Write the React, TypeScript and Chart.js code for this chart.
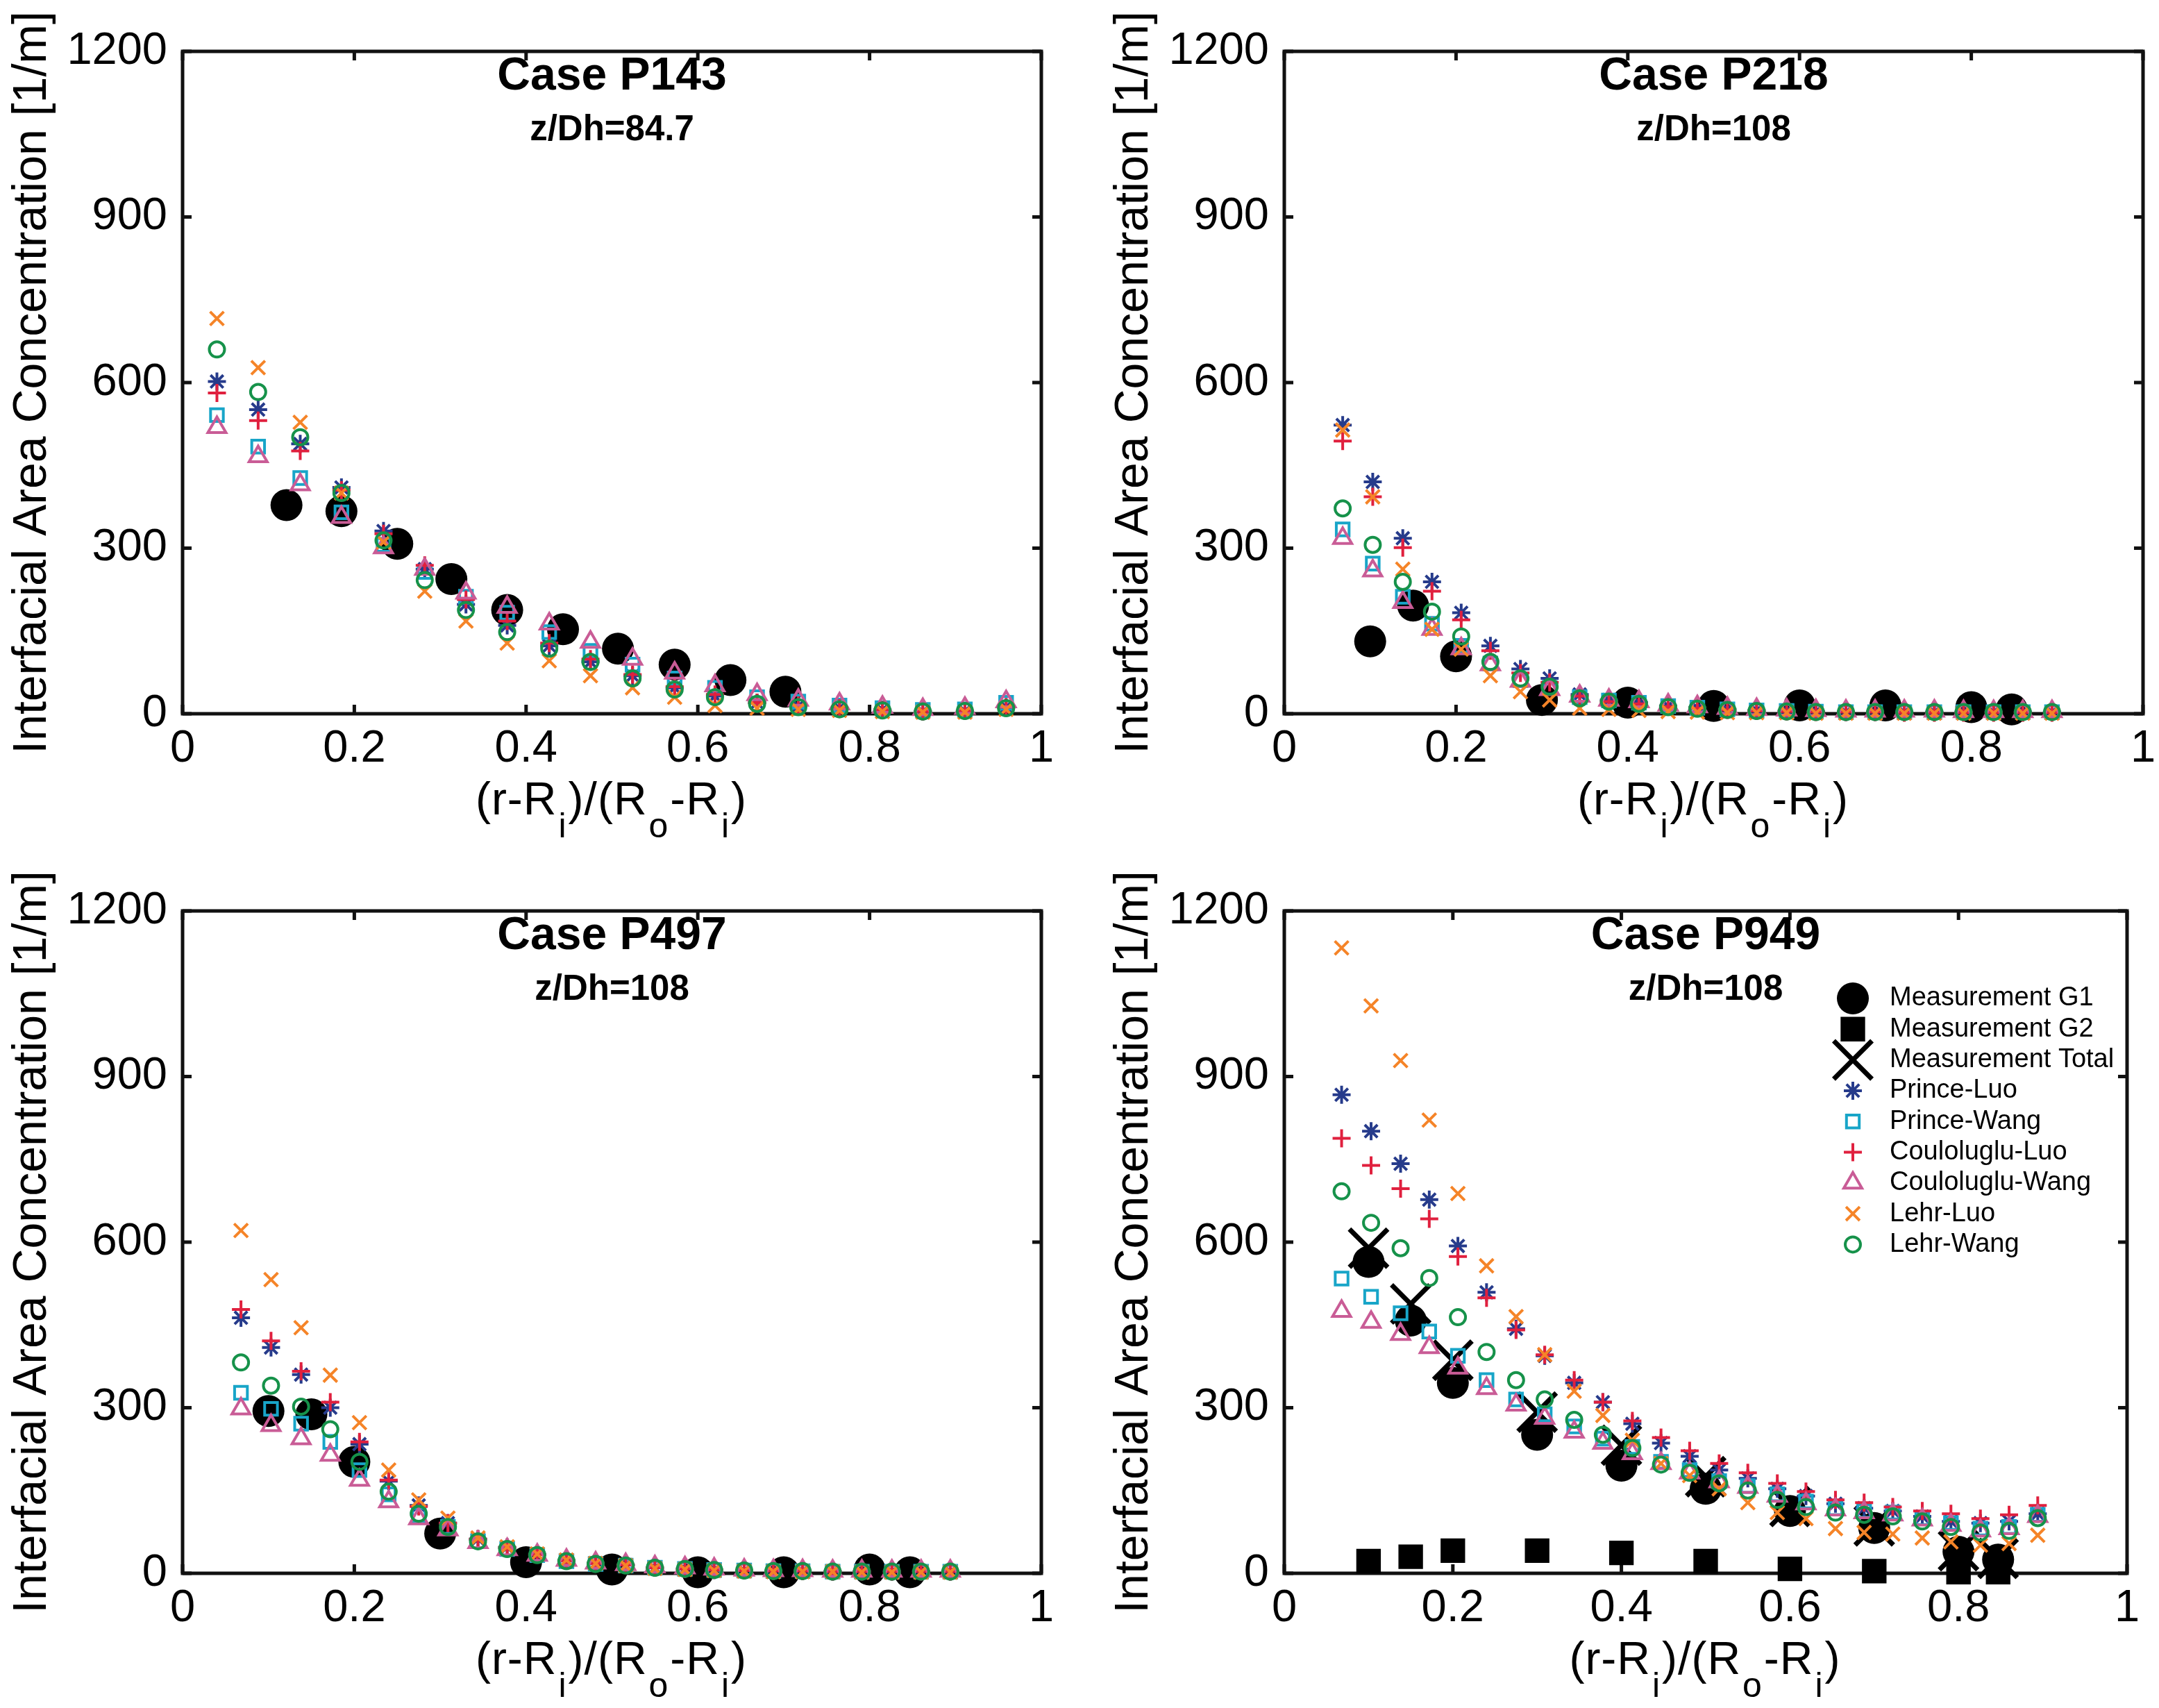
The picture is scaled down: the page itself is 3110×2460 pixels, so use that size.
import { useEffect, useRef } from 'react';
import { Chart, registerables, type ChartConfiguration, type Plugin } from 'chart.js';
import { drawPoint } from 'chart.js/helpers';

Chart.register(...registerables);

const FONT = '"Liberation Sans", Arial, Helvetica, sans-serif';

// axis ticks
const xTicks = [0, 0.2, 0.4, 0.6, 0.8, 1];
const xTickLabels = ['0', '0.2', '0.4', '0.6', '0.8', '1'];
const yTicks = [0, 300, 600, 900, 1200];
const yTickLabels = ['0', '300', '600', '900', '1200'];

const seriesNames = [
  'Measurement G1',
  'Measurement G2',
  'Measurement Total',
  'Prince-Luo',
  'Prince-Wang',
  'Couloluglu-Luo',
  'Couloluglu-Wang',
  'Lehr-Luo',
  'Lehr-Wang',
];

// radial positions (r-Ri)/(Ro-Ri)
const xModelP143 = [0.040, 0.088, 0.137, 0.185, 0.234, 0.282, 0.330, 0.378, 0.427, 0.475, 0.524, 0.573, 0.620, 0.669, 0.717, 0.765, 0.815, 0.862, 0.911, 0.959];
const xMeasP143 = [0.121, 0.185, 0.250, 0.313, 0.378, 0.443, 0.507, 0.573, 0.638, 0.702];
const xModel = [0.068, 0.103, 0.138, 0.172, 0.206, 0.240, 0.275, 0.309, 0.344, 0.378, 0.413, 0.447, 0.481, 0.516, 0.550, 0.585, 0.619, 0.654, 0.688, 0.722, 0.757, 0.791, 0.826, 0.860, 0.894];
const xMeas = [0.100, 0.150, 0.200, 0.300, 0.400, 0.500, 0.600, 0.700, 0.800, 0.847];

// Case P143
const p143G1 = [378, 367, 308, 244, 188, 153, 118, 89, 61, 40];
const p143PrinceLuo = [602, 551, 489, 410, 331, 262, 198, 160, 123, 94, 69, 47, 32, 20, 14, 10, 7, 4, 5, 12];
const p143PrinceWang = [541, 484, 427, 365, 306, 257, 212, 183, 148, 114, 89, 64, 47, 30, 22, 15, 10, 7, 8, 20];
const p143CoulLuo = [581, 531, 476, 405, 326, 269, 207, 168, 128, 99, 71, 49, 35, 20, 15, 10, 7, 4, 5, 12];
const p143CoulWang = [519, 466, 415, 356, 301, 262, 219, 193, 163, 130, 99, 74, 51, 35, 25, 18, 12, 8, 10, 22];
const p143LehrLuo = [716, 627, 528, 400, 311, 222, 168, 128, 96, 69, 47, 30, 15, 10, 8, 6, 4, 3, 3, 8];
const p143LehrWang = [660, 583, 501, 400, 314, 242, 188, 148, 118, 94, 64, 44, 30, 18, 12, 8, 6, 4, 5, 10];

// Case P218
const p218G1 = [131, 196, 104, 25, 20, 14, 15, 15, 12, 8];
const p218PrinceLuo = [523, 420, 318, 239, 183, 123, 81, 64, 35, 25, 20, 14, 11, 8, 6, 5, 4, 3, 3, 3, 3, 3, 3, 3, 3];
const p218PrinceWang = [334, 272, 212, 163, 123, 91, 61, 47, 30, 24, 20, 14, 11, 8, 6, 5, 4, 3, 3, 3, 3, 3, 3, 3, 3];
const p218CoulLuo = [494, 393, 301, 222, 170, 114, 74, 57, 32, 22, 18, 13, 10, 7, 5, 4, 3, 3, 3, 2, 2, 2, 2, 2, 2];
const p218CoulWang = [318, 259, 202, 153, 118, 89, 59, 44, 32, 25, 22, 16, 13, 10, 8, 7, 6, 5, 5, 5, 5, 4, 4, 4, 4];
const p218LehrLuo = [514, 393, 262, 153, 117, 69, 40, 25, 10, 8, 6, 4, 3, 2, 2, 2, 1, 1, 1, 1, 1, 1, 1, 1, 1];
const p218LehrWang = [372, 306, 239, 185, 140, 94, 64, 49, 28, 22, 18, 12, 9, 7, 5, 4, 3, 3, 3, 3, 3, 3, 3, 3, 3];

// Case P497
const p497G1 = [294, 288, 202, 72, 20, 7, 2, 2, 7, 2];
const p497PrinceLuo = [463, 409, 360, 300, 234, 167, 123, 91, 62, 47, 34, 23, 18, 15, 10, 8, 6, 5, 4, 4, 3, 3, 3, 3, 3];
const p497PrinceWang = [327, 298, 271, 238, 187, 143, 106, 84, 58, 44, 33, 22, 17, 14, 10, 8, 6, 5, 4, 4, 3, 3, 3, 3, 3];
const p497CoulLuo = [478, 421, 366, 310, 238, 169, 121, 91, 62, 47, 34, 23, 18, 15, 10, 8, 6, 5, 4, 4, 3, 3, 3, 3, 3];
const p497CoulWang = [298, 268, 244, 214, 169, 130, 99, 79, 56, 43, 33, 24, 19, 16, 12, 10, 8, 6, 5, 5, 4, 4, 4, 4, 4];
const p497LehrLuo = [621, 532, 445, 359, 273, 187, 133, 100, 64, 48, 35, 24, 18, 14, 9, 7, 5, 4, 3, 3, 3, 2, 2, 2, 2];
const p497LehrWang = [382, 340, 302, 261, 202, 148, 108, 84, 58, 44, 33, 22, 17, 14, 10, 8, 6, 5, 4, 4, 3, 3, 3, 3, 3];

// Case P949
const p949G1 = [564, 458, 345, 251, 195, 153, 113, 82, 39, 25];
const p949G2 = [22, 30, 41, 41, 37, 22, 8, 4, 2, 2];
const p949Total = [589, 488, 386, 292, 232, 175, 121, 86, 41, 27];
const p949PrinceLuo = [867, 801, 742, 677, 593, 509, 443, 394, 345, 310, 271, 236, 212, 187, 172, 153, 140, 126, 118, 113, 103, 94, 91, 94, 108];
const p949PrinceWang = [534, 501, 471, 438, 394, 350, 315, 288, 266, 244, 229, 202, 187, 167, 158, 143, 130, 118, 113, 110, 100, 91, 81, 84, 106];
const p949CoulLuo = [788, 739, 697, 642, 574, 499, 441, 396, 350, 310, 276, 246, 222, 199, 182, 163, 148, 133, 128, 120, 113, 108, 99, 106, 123];
const p949CoulWang = [475, 455, 433, 409, 372, 335, 305, 281, 256, 236, 217, 199, 182, 166, 156, 140, 126, 115, 110, 106, 97, 87, 77, 81, 103];
const p949LehrLuo = [1133, 1028, 929, 821, 688, 557, 465, 396, 330, 286, 241, 199, 177, 153, 128, 110, 99, 81, 74, 71, 64, 57, 51, 54, 69];
const p949LehrWang = [692, 635, 589, 535, 464, 401, 350, 315, 278, 251, 227, 197, 182, 163, 150, 133, 120, 110, 106, 103, 94, 84, 74, 77, 100];

type MarkerStyle = { pointStyle: string; radius: number; fill: string; stroke: string; width: number };

const seriesStyles: MarkerStyle[] = [
  { pointStyle: 'circle', radius: 23, fill: '#000000', stroke: '#000000', width: 0 },
  { pointStyle: 'rect', radius: 25, fill: '#000000', stroke: '#000000', width: 0 },
  { pointStyle: 'crossRot', radius: 39, fill: 'transparent', stroke: '#000000', width: 7 },
  { pointStyle: 'star', radius: 13, fill: 'transparent', stroke: '#263B8B', width: 4 },
  { pointStyle: 'rect', radius: 13, fill: 'transparent', stroke: '#18A5C8', width: 4 },
  { pointStyle: 'cross', radius: 13, fill: 'transparent', stroke: '#E0203E', width: 4 },
  { pointStyle: 'triangle', radius: 15, fill: 'transparent', stroke: '#C95C96', width: 4 },
  { pointStyle: 'crossRot', radius: 14, fill: 'transparent', stroke: '#F58428', width: 4 },
  { pointStyle: 'circle', radius: 11, fill: 'transparent', stroke: '#16924A', width: 4 },
];

type PanelSpec = {
  title: string;
  subtitle: string;
  xModel: number[];
  xMeas: number[];
  // one entry per seriesNames index, null when the series is absent
  values: (number[] | null)[];
  legend: boolean;
};

const panels: PanelSpec[] = [
  {
    title: 'Case P143',
    subtitle: 'z/Dh=84.7',
    xModel: xModelP143,
    xMeas: xMeasP143,
    values: [p143G1, null, null, p143PrinceLuo, p143PrinceWang, p143CoulLuo, p143CoulWang, p143LehrLuo, p143LehrWang],
    legend: false,
  },
  {
    title: 'Case P218',
    subtitle: 'z/Dh=108',
    xModel,
    xMeas,
    values: [p218G1, null, null, p218PrinceLuo, p218PrinceWang, p218CoulLuo, p218CoulWang, p218LehrLuo, p218LehrWang],
    legend: false,
  },
  {
    title: 'Case P497',
    subtitle: 'z/Dh=108',
    xModel,
    xMeas,
    values: [p497G1, null, null, p497PrinceLuo, p497PrinceWang, p497CoulLuo, p497CoulWang, p497LehrLuo, p497LehrWang],
    legend: false,
  },
  {
    title: 'Case P949',
    subtitle: 'z/Dh=108',
    xModel,
    xMeas,
    values: [p949G1, p949G2, p949Total, p949PrinceLuo, p949PrinceWang, p949CoulLuo, p949CoulWang, p949LehrLuo, p949LehrWang],
    legend: true,
  },
];

const CANVAS_W = 1523;
const CANVAS_H = 1222;
const PLOT_LEFT = 263;
const PLOT_RIGHT = 1505;
const PLOT_TOP = 74;
const PLOT_BOTTOM = 1028;

// box with inward ticks on all four sides
const framePlugin: Plugin = {
  id: 'frame',
  beforeDatasetsDraw(chart) {
    const { ctx, chartArea: a, scales } = chart;
    ctx.save();
    ctx.strokeStyle = '#111111';
    ctx.lineWidth = 5;
    ctx.strokeRect(a.left, a.top, a.right - a.left, a.bottom - a.top);
    ctx.beginPath();
    xTicks.forEach((v) => {
      const px = scales.x.getPixelForValue(v);
      ctx.moveTo(px, a.bottom);
      ctx.lineTo(px, a.bottom - 13);
      ctx.moveTo(px, a.top);
      ctx.lineTo(px, a.top + 13);
    });
    yTicks.forEach((v) => {
      const py = scales.y.getPixelForValue(v);
      ctx.moveTo(a.left, py);
      ctx.lineTo(a.left + 13, py);
      ctx.moveTo(a.right, py);
      ctx.lineTo(a.right - 13, py);
    });
    ctx.stroke();
    ctx.restore();
  },
};

// x-axis label with subscripts
const xLabelParts = [
  { t: '(r-R', sub: false },
  { t: 'i', sub: true },
  { t: ')/(R', sub: false },
  { t: 'o', sub: true },
  { t: '-R', sub: false },
  { t: 'i', sub: true },
  { t: ')', sub: false },
];

const xLabelPlugin: Plugin = {
  id: 'xLabel',
  afterDraw(chart) {
    const { ctx, chartArea: a } = chart;
    const mainFont = `66px ${FONT}`;
    const subFont = `50px ${FONT}`;
    ctx.save();
    (ctx as any).letterSpacing = '1px';
    ctx.fillStyle = '#000000';
    ctx.textBaseline = 'alphabetic';
    ctx.textAlign = 'left';
    let total = 0;
    const widths = xLabelParts.map((p) => {
      ctx.font = p.sub ? subFont : mainFont;
      const w = ctx.measureText(p.t).width + 2;
      total += w;
      return w;
    });
    let x = (a.left + a.right) / 2 - total / 2;
    const base = a.bottom + 145;
    xLabelParts.forEach((p, i) => {
      ctx.font = p.sub ? subFont : mainFont;
      ctx.fillText(p.t, x, p.sub ? base + 33 : base);
      x += widths[i];
    });
    ctx.restore();
  },
};

const titlePlugin: Plugin = {
  id: 'panelTitle',
  afterDraw(chart) {
    const { ctx, chartArea: a } = chart;
    const opts = (chart.options.plugins as any).panelTitle;
    const cx = (a.left + a.right) / 2;
    ctx.save();
    ctx.fillStyle = '#000000';
    ctx.textAlign = 'center';
    ctx.textBaseline = 'middle';
    ctx.font = `bold 66px ${FONT}`;
    ctx.fillText(opts.title, cx, a.top + 37);
    ctx.font = `bold 51px ${FONT}`;
    ctx.fillText(opts.subtitle, cx, a.top + 114);
    ctx.restore();
  },
};

// legend drawn inside the plot area
const innerLegendPlugin: Plugin = {
  id: 'innerLegend',
  afterDraw(chart) {
    const opts = (chart.options.plugins as any).innerLegend;
    if (!opts || !opts.show) return;
    const { ctx, chartArea: a } = chart;
    const markerX = a.left + 819;
    const textX = a.left + 872;
    ctx.save();
    chart.data.datasets.forEach((ds: any, i: number) => {
      const y = a.top + 126 + i * 44.3;
      const st: MarkerStyle = ds.markerStyle;
      ctx.fillStyle = st.fill;
      ctx.strokeStyle = st.stroke;
      ctx.lineWidth = st.width;
      drawPoint(ctx, { pointStyle: st.pointStyle as any, radius: st.radius, rotation: 0, borderWidth: st.width }, markerX, y);
      ctx.fillStyle = '#000000';
      ctx.font = `38px ${FONT}`;
      ctx.textAlign = 'left';
      ctx.textBaseline = 'middle';
      ctx.fillText(ds.label, textX, y);
    });
    ctx.restore();
  },
};

function buildConfig(spec: PanelSpec): ChartConfiguration<'scatter'> {
  const datasets: any[] = [];
  spec.values.forEach((ys, i) => {
    if (!ys) return;
    const xs = i < 3 ? spec.xMeas : spec.xModel;
    const st = seriesStyles[i];
    datasets.push({
      label: seriesNames[i],
      data: xs.map((x, k) => ({ x, y: ys[k] })),
      showLine: false,
      pointStyle: st.pointStyle,
      pointRadius: st.radius,
      pointHoverRadius: st.radius,
      pointBackgroundColor: st.fill,
      pointBorderColor: st.stroke,
      pointBorderWidth: st.width,
      pointHoverBorderWidth: st.width,
      order: seriesNames.length - i,
      clip: false,
      markerStyle: st,
    });
  });

  return {
    type: 'scatter',
    data: { datasets },
    options: {
      responsive: false,
      devicePixelRatio: 1,
      animation: false,
      events: [],
      layout: {
        padding: { left: 0, top: PLOT_TOP, right: CANVAS_W - PLOT_RIGHT, bottom: 0 },
      },
      plugins: {
        legend: { display: false },
        tooltip: { enabled: false },
        panelTitle: { title: spec.title, subtitle: spec.subtitle },
        innerLegend: { show: spec.legend },
      } as any,
      scales: {
        x: {
          type: 'linear',
          min: 0,
          max: 1,
          afterBuildTicks: (scale: any) => {
            scale.ticks = xTicks.map((v) => ({ value: v }));
          },
          afterFit: (scale: any) => {
            scale.height = CANVAS_H - PLOT_BOTTOM;
            scale.paddingLeft = 0;
            scale.paddingRight = 0;
          },
          grid: { display: false, drawTicks: false },
          border: { display: false },
          ticks: {
            autoSkip: false,
            maxRotation: 0,
            padding: 12,
            color: '#000000',
            font: { family: FONT, size: 65 },
            callback: (_v: any, i: number) => xTickLabels[i],
          },
        },
        y: {
          type: 'linear',
          min: 0,
          max: 1200,
          afterBuildTicks: (scale: any) => {
            scale.ticks = yTicks.map((v) => ({ value: v }));
          },
          afterFit: (scale: any) => {
            scale.width = PLOT_LEFT;
            scale.paddingTop = 0;
            scale.paddingBottom = 0;
          },
          grid: { display: false, drawTicks: false },
          border: { display: false },
          ticks: {
            padding: 22,
            color: '#000000',
            font: { family: FONT, size: 65 },
            callback: (_v: any, i: number) => yTickLabels[i],
          },
          title: {
            display: true,
            text: 'Interfacial Area Concentration [1/m]',
            color: '#000000',
            font: { family: FONT, size: 68 },
            padding: { top: 6, bottom: 0 },
          },
        },
      },
    },
    plugins: [framePlugin, titlePlugin, xLabelPlugin, innerLegendPlugin],
  } as ChartConfiguration<'scatter'>;
}

function Panel({ spec, left, top }: { spec: PanelSpec; left: number; top: number }) {
  const canvasRef = useRef<HTMLCanvasElement | null>(null);

  useEffect(() => {
    if (!canvasRef.current) return;
    const chart = new Chart(canvasRef.current, buildConfig(spec));
    return () => {
      chart.destroy();
    };
  }, [spec]);

  return (
    <canvas
      ref={canvasRef}
      width={CANVAS_W}
      height={CANVAS_H}
      style={{ position: 'absolute', left, top, width: CANVAS_W, height: CANVAS_H, display: 'block' }}
    />
  );
}

const panelOrigins = [
  { left: 0, top: 0 },
  { left: 1587, top: 0 },
  { left: 0, top: 1238 },
  { left: 1587, top: 1238 },
];

export default function App() {
  return (
    <div style={{ position: 'absolute', left: 0, top: 0, width: 3110, height: 2460, background: '#ffffff', overflow: 'hidden' }}>
      {panels.map((spec, i) => (
        <Panel key={spec.title} spec={spec} left={panelOrigins[i].left} top={panelOrigins[i].top} />
      ))}
    </div>
  );
}
